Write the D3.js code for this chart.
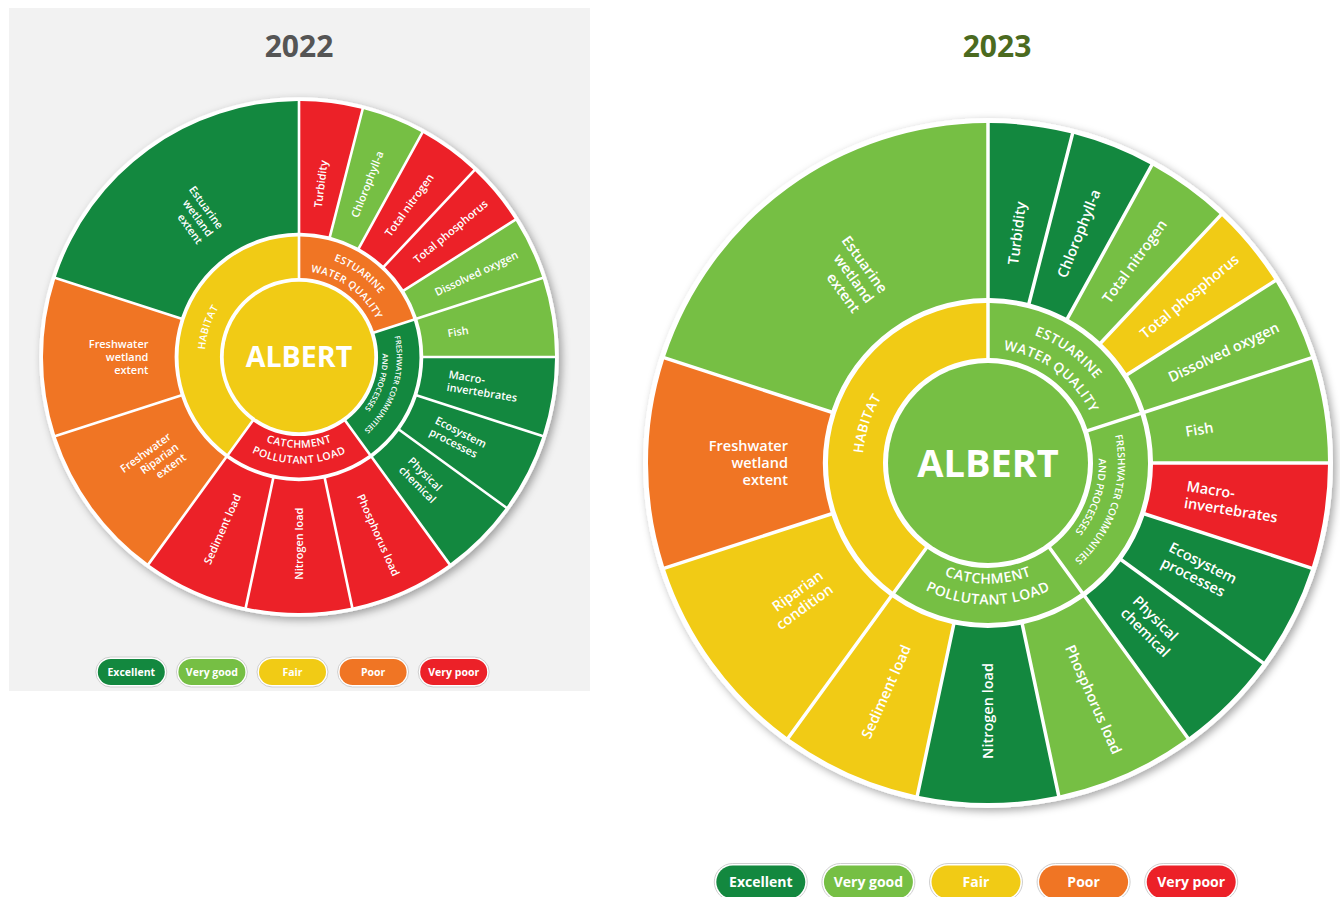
<!DOCTYPE html>
<html>
<head>
<meta charset="utf-8">
<script src="https://cdn.jsdelivr.net/npm/d3@7"></script>
<style>
  body { margin: 0; background: #fff; }
  svg { display: block; font-family: "Open Sans", sans-serif; }
</style>
</head>
<body>
<div id="chart"></div>
<script>
// rating scale
var grades = ["Excellent", "Very good", "Fair", "Poor", "Very poor"];
var gradeColors = ["#13883f", "#76bf44", "#f1cb15", "#f07524", "#ec2128"];

// middle ring, clockwise from 12 o'clock
var groupNames = ["ESTUARINE\nWATER QUALITY", "FRESHWATER COMMUNITIES\nAND PROCESSES", "CATCHMENT\nPOLLUTANT LOAD", "HABITAT"];

// outer ring, clockwise from 12 o'clock
var indicatorGroup = [0, 0, 0, 0, 0, 1, 1, 1, 1, 2, 2, 2, 3, 3, 3];
var indicatorShare = [14.4, 14.4, 14.4, 14.4, 14.4, 18, 18, 18, 18, 24, 24, 24, 36, 36, 72];
var indicators2022 = ["Turbidity", "Chlorophyll-a", "Total nitrogen", "Total phosphorus", "Dissolved oxygen",
  "Fish", "Macro-\ninvertebrates", "Ecosystem\nprocesses", "Physical\nchemical",
  "Phosphorus load", "Nitrogen load", "Sediment load",
  "Freshwater\nRiparian\nextent", "Freshwater\nwetland\nextent", "Estuarine\nwetland\nextent"];
var indicators2023 = ["Turbidity", "Chlorophyll-a", "Total nitrogen", "Total phosphorus", "Dissolved oxygen",
  "Fish", "Macro-\ninvertebrates", "Ecosystem\nprocesses", "Physical\nchemical",
  "Phosphorus load", "Nitrogen load", "Sediment load",
  "Riparian\ncondition", "Freshwater\nwetland\nextent", "Estuarine\nwetland\nextent"];

// 2022 report card
var overall2022 = "Fair";
var groupGrades2022 = ["Poor", "Excellent", "Very poor", "Fair"];
var indicatorGrades2022 = ["Very poor", "Very good", "Very poor", "Very poor", "Very good",
  "Very good", "Excellent", "Excellent", "Excellent",
  "Very poor", "Very poor", "Very poor",
  "Poor", "Poor", "Excellent"];

// 2023 report card
var overall2023 = "Very good";
var groupGrades2023 = ["Very good", "Very good", "Very good", "Fair"];
var indicatorGrades2023 = ["Excellent", "Excellent", "Very good", "Fair", "Very good",
  "Very good", "Very poor", "Excellent", "Excellent",
  "Very good", "Excellent", "Fair",
  "Fair", "Poor", "Very good"];

var color = d3.scaleOrdinal().domain(grades).range(gradeColors);

var svg = d3.select("#chart").append("svg")
    .attr("width", 1340)
    .attr("height", 897);

var defs = svg.append("defs");
defs.append("filter").attr("id", "shadow")
    .attr("x", "-20%").attr("y", "-20%").attr("width", "140%").attr("height", "140%")
  .append("feDropShadow")
    .attr("dx", 3).attr("dy", 3).attr("stdDeviation", 4)
    .attr("flood-color", "#000").attr("flood-opacity", 0.35);

// grey panel behind 2022
svg.append("rect")
    .attr("x", 9).attr("y", 8)
    .attr("width", 581).attr("height", 683)
    .attr("fill", "#f2f2f2");

function deg(r) { return r * 180 / Math.PI; }

function arcPath(r, a0, a1, reverse) {
    function p(a) { return [r * Math.sin(a), -r * Math.cos(a)]; }
    var s = p(a0), e = p(a1);
    if (reverse) return "M" + e[0] + "," + e[1] + "A" + r + "," + r + " 0 0 0 " + s[0] + "," + s[1];
    return "M" + s[0] + "," + s[1] + "A" + r + "," + r + " 0 0 1 " + e[0] + "," + e[1];
}

function drawWheel(o) {
    var k = o.k;
    var g = svg.append("g").attr("transform", "translate(" + o.cx + "," + o.cy + ")");

    var root = d3.hierarchy({
        children: groupNames.map(function(name, gi) {
            return {
                name: name,
                grade: o.groupGrades[gi],
                children: o.names.map(function(n, i) {
                    return { name: n, grade: o.indicatorGrades[i], share: indicatorShare[i], group: indicatorGroup[i] };
                }).filter(function(d) { return d.group === gi; })
            };
        })
    }).sum(function(d) { return d.share || 0; });

    d3.partition().size([2 * Math.PI, 1])(root);

    // white disc with shadow
    g.append("circle")
        .attr("r", 345 * k)
        .attr("fill", "#fff")
        .attr("filter", "url(#shadow)");

    var outerArc = d3.arc()
        .startAngle(function(d) { return d.x0; })
        .endAngle(function(d) { return d.x1; })
        .innerRadius(165 * k).outerRadius(340 * k)
        .padAngle(0.0175).padRadius(200 * k);

    var midArc = d3.arc()
        .startAngle(function(d) { return d.x0; })
        .endAngle(function(d) { return d.x1; })
        .innerRadius(105 * k).outerRadius(160 * k)
        .padAngle(0.0175).padRadius(200 * k);

    var leaves = root.descendants().filter(function(d) { return d.depth === 2; });
    var groups = root.descendants().filter(function(d) { return d.depth === 1; });

    g.selectAll("path.leaf")
        .data(leaves)
        .enter().append("path")
        .attr("class", "leaf")
        .attr("d", outerArc)
        .attr("fill", function(d) { return color(d.data.grade); });

    g.selectAll("path.group")
        .data(groups)
        .enter().append("path")
        .attr("class", "group")
        .attr("d", midArc)
        .attr("fill", function(d) { return color(d.data.grade); });

    g.append("circle")
        .attr("r", 100 * k)
        .attr("fill", color(o.overall));

    g.append("text")
        .attr("text-anchor", "middle")
        .attr("dy", "0.36em")
        .attr("font-size", 38 * k)
        .attr("font-weight", 700)
        .attr("fill", "#fff")
        .text("ALBERT");

    // outer labels
    var fs = 14.5 * k, lh = 17 * k, lr = 200 * k;
    leaves.forEach(function(d) {
        var a = (d.x0 + d.x1) / 2;
        var ad = deg(a);
        var right = ad < 179;
        var rot = right ? ad - 90 : ad + 90;
        if (rot > 180) rot -= 360;
        var lines = d.data.name.split("\n");
        var t = g.append("text")
            .attr("transform", "translate(" + (lr * Math.sin(a)) + "," + (-lr * Math.cos(a)) + ") rotate(" + rot + ")")
            .attr("text-anchor", right ? "start" : "end")
            .attr("font-size", fs)
            .attr("font-weight", 600)
            .attr("fill", "#fff");
        lines.forEach(function(line, i) {
            t.append("tspan")
                .attr("x", 0)
                .attr("y", (i - (lines.length - 1) / 2) * lh)
                .attr("dy", "0.35em")
                .text(line);
        });
    });

    // middle ring labels, curved
    var groupFont = [13.5, 10, 14, 13.5];
    var groupSpacing = [0.5, 0, 0.5, 0.5];
    var groupGap = [22, 19, 21, 21];
    var groupMid = [130, 124, 126, 130];
    groups.forEach(function(d, gi) {
        var a = (d.x0 + d.x1) / 2;
        var ad = deg(a);
        var reverse = ad > 120 && ad < 240;
        var lines = d.data.name.split("\n");
        var f = groupFont[gi] * k;
        lines.forEach(function(line, i) {
            var off = (i - (lines.length - 1) / 2) * groupGap[gi] * k;
            var rc = reverse ? groupMid[gi] * k + off : groupMid[gi] * k - off;
            var rb = reverse ? rc + 0.36 * f : rc - 0.36 * f;
            var id = o.id + "-g" + gi + "-" + i;
            defs.append("path")
                .attr("id", id)
                .attr("d", arcPath(rb, a - 1.45, a + 1.45, reverse));
            g.append("text")
                .attr("font-size", f)
                .attr("font-weight", 600)
                .attr("letter-spacing", groupSpacing[gi] * k)
                .attr("fill", "#fff")
              .append("textPath")
                .attr("href", "#" + id)
                .attr("startOffset", "50%")
                .attr("text-anchor", "middle")
                .text(line);
        });
    });

    // title
    svg.append("text")
        .attr("x", o.titleX).attr("y", 57)
        .attr("text-anchor", "middle")
        .attr("font-size", 30)
        .attr("font-weight", 700)
        .attr("fill", o.titleColor)
        .text(o.title);
}

function drawLegend(o) {
    var x = d3.scaleBand().domain(grades).range([o.x0, o.x1]).paddingInner(0);
    var lg = svg.append("g");
    var item = lg.selectAll("g")
        .data(grades)
        .enter().append("g")
        .attr("transform", function(d) { return "translate(" + (x(d) + x.bandwidth() / 2) + "," + o.cy + ")"; });

    item.append("rect")
        .attr("x", -o.w / 2 - 2).attr("y", -o.h / 2 - 2)
        .attr("width", o.w + 4).attr("height", o.h + 4)
        .attr("rx", o.h / 2 + 2)
        .attr("fill", "#fff")
        .attr("stroke", "#cfcfcf")
        .attr("stroke-width", 1);

    item.append("rect")
        .attr("x", -o.w / 2).attr("y", -o.h / 2)
        .attr("width", o.w).attr("height", o.h)
        .attr("rx", o.h / 2)
        .attr("fill", function(d) { return color(d); });

    item.append("text")
        .attr("text-anchor", "middle")
        .attr("dy", "0.36em")
        .attr("font-size", o.fs)
        .attr("font-weight", 700)
        .attr("fill", "#fff")
        .text(function(d) { return d; });
}

drawWheel({ id: "y2022", cx: 299, cy: 357, k: 0.753, names: indicators2022, overall: overall2022,
    groupGrades: groupGrades2022, indicatorGrades: indicatorGrades2022,
    title: "2022", titleX: 299, titleColor: "#555555" });

drawWheel({ id: "y2023", cx: 988, cy: 463, k: 1, names: indicators2023, overall: overall2023,
    groupGrades: groupGrades2023, indicatorGrades: indicatorGrades2023,
    title: "2023", titleX: 997, titleColor: "#4b6a1f" });

drawLegend({ x0: 91, x1: 494, cy: 672, w: 67, h: 26, fs: 10.5 });
drawLegend({ x0: 707, x1: 1245, cy: 882, w: 89, h: 33, fs: 14 });
</script>
</body>
</html>
